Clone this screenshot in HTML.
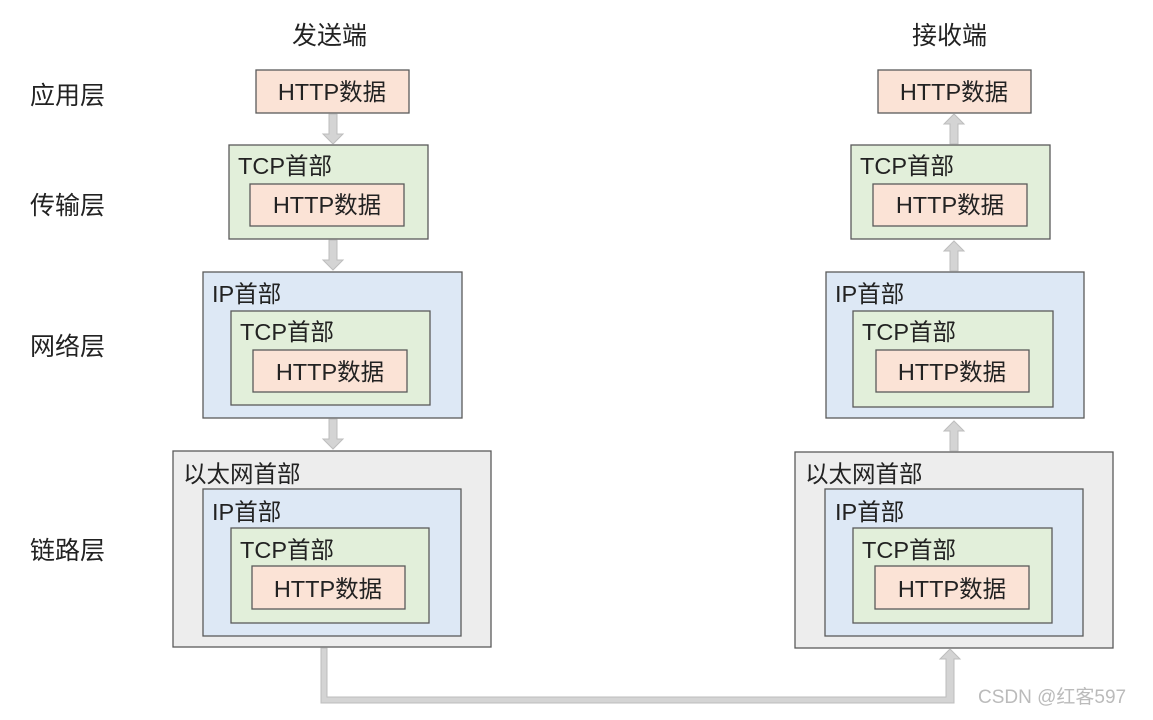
<!DOCTYPE html>
<html><head><meta charset="utf-8"><style>
body{margin:0;background:#fff}
text{font-family:"Liberation Sans","Noto Sans CJK SC",sans-serif;font-size:23.5px;fill:#222}
text.big{font-size:25px}
</style></head><body>
<svg width="1153" height="715" xmlns="http://www.w3.org/2000/svg">
<g stroke="#5a5a5a" stroke-width="1.3">
<rect x="256" y="70" width="153" height="43" fill="#fbe3d6"/>
<rect x="229" y="145" width="199" height="94" fill="#e2efda"/>
<rect x="250" y="184" width="154" height="42" fill="#fbe3d6"/>
<rect x="203" y="272" width="259" height="146" fill="#dde8f5"/>
<rect x="231" y="311" width="199" height="94" fill="#e2efda"/>
<rect x="253" y="350" width="154" height="42" fill="#fbe3d6"/>
<rect x="173" y="451" width="318" height="196" fill="#ededed"/>
<rect x="203" y="489" width="258" height="147" fill="#dde8f5"/>
<rect x="231" y="528" width="198" height="95" fill="#e2efda"/>
<rect x="252" y="566" width="153" height="43" fill="#fbe3d6"/>
<rect x="878" y="70" width="153" height="43" fill="#fbe3d6"/>
<rect x="851" y="145" width="199" height="94" fill="#e2efda"/>
<rect x="873" y="184" width="154" height="42" fill="#fbe3d6"/>
<rect x="826" y="272" width="258" height="146" fill="#dde8f5"/>
<rect x="853" y="311" width="200" height="96" fill="#e2efda"/>
<rect x="876" y="350" width="153" height="42" fill="#fbe3d6"/>
<rect x="795" y="452" width="318" height="196" fill="#ededed"/>
<rect x="825" y="489" width="258" height="147" fill="#dde8f5"/>
<rect x="853" y="528" width="199" height="95" fill="#e2efda"/>
<rect x="875" y="566" width="154" height="43" fill="#fbe3d6"/>
</g>
<g fill="#d4d4d4" stroke="#bdbdbd" stroke-width="1">
<path d="M329 114h8v20h6l-10 10l-10-10h6z"/>
<path d="M329 240h8v20h6l-10 10l-10-10h6z"/>
<path d="M329 419h8v20h6l-10 10l-10-10h6z"/>
<path d="M950 144h8v-20h6l-10-10l-10 10h6z"/>
<path d="M950 271h8v-20h6l-10-10l-10 10h6z"/>
<path d="M950 451h8v-20h6l-10-10l-10 10h6z"/>
<path d="M321 648h6v49h619v-38h-6l10-10l10 10h-6v44h-633z"/>
</g>
<text class="big" x="292" y="44">发送端</text>
<text class="big" x="912" y="44">接收端</text>
<text class="big" x="30" y="104">应用层</text>
<text class="big" x="30" y="214">传输层</text>
<text class="big" x="30" y="355">网络层</text>
<text class="big" x="30" y="559">链路层</text>
<text x="332" y="100" text-anchor="middle">HTTP数据</text>
<text x="238" y="174">TCP首部</text>
<text x="327" y="213" text-anchor="middle">HTTP数据</text>
<text x="212" y="302">IP首部</text>
<text x="240" y="340">TCP首部</text>
<text x="330" y="380" text-anchor="middle">HTTP数据</text>
<text x="183" y="482">以太网首部</text>
<text x="212" y="520">IP首部</text>
<text x="240" y="558">TCP首部</text>
<text x="328" y="597" text-anchor="middle">HTTP数据</text>
<text x="954" y="100" text-anchor="middle">HTTP数据</text>
<text x="860" y="174">TCP首部</text>
<text x="950" y="213" text-anchor="middle">HTTP数据</text>
<text x="835" y="302">IP首部</text>
<text x="862" y="340">TCP首部</text>
<text x="952" y="380" text-anchor="middle">HTTP数据</text>
<text x="805" y="482">以太网首部</text>
<text x="835" y="520">IP首部</text>
<text x="862" y="558">TCP首部</text>
<text x="952" y="597" text-anchor="middle">HTTP数据</text>
<text x="978" y="703" style="font-size:19px;fill:#bbb">CSDN @红客597</text>
</svg>
</body></html>
